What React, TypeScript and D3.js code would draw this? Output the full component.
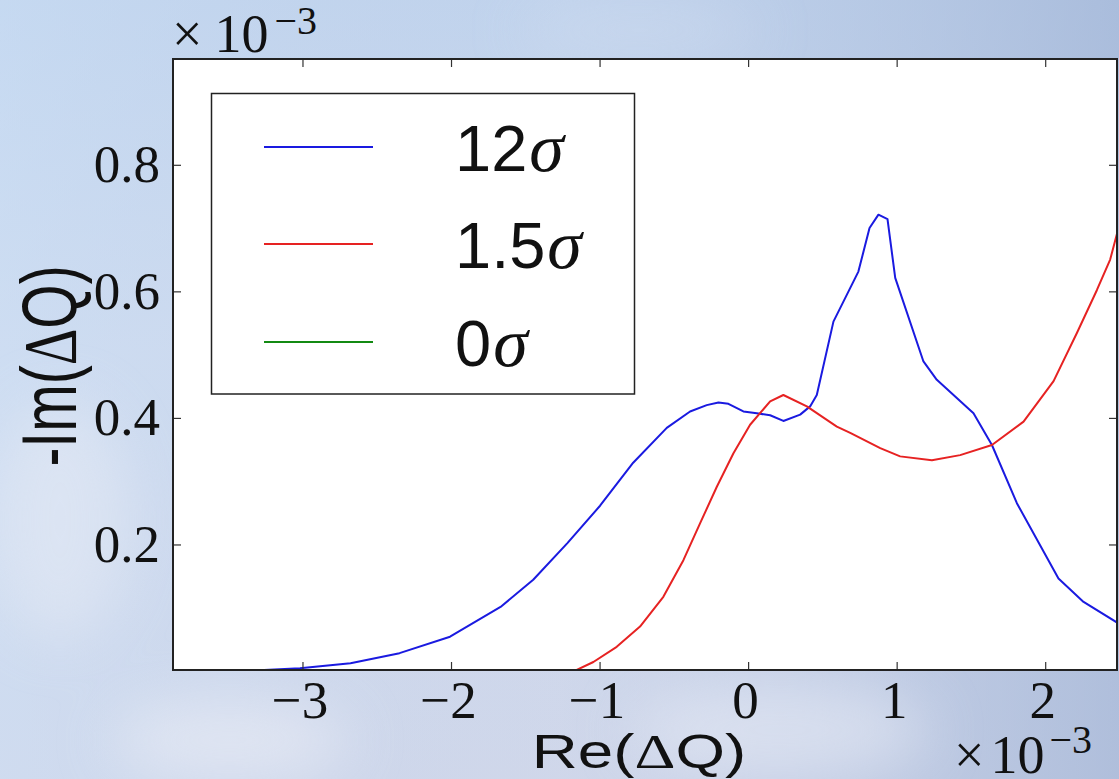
import React from 'react';
import * as d3 from 'd3';

const W = 1119;
const H = 779;

// Axis ticks (values are in units of 1e-3)
const X_TICKS = [-3, -2, -1, 0, 1, 2];
const Y_TICKS = [0.2, 0.4, 0.6, 0.8];
const X_DOMAIN = [-3.875, 2.48];
const Y_DOMAIN = [0.0024, 0.968];

// 12 sigma spread
const RE_12 = [-3.9, -3.4, -3.02, -2.68, -2.35, -2.01, -1.67, -1.45, -1.22, -1.0, -0.777, -0.551, -0.394, -0.282, -0.203, -0.136, -0.035, 0.055, 0.145, 0.234, 0.347, 0.414, 0.459, 0.571, 0.739, 0.814, 0.874, 0.935, 0.987, 1.177, 1.267, 1.514, 1.638, 1.806, 2.086, 2.255, 2.49];
const IM_12 = [0.0, 0.001, 0.005, 0.013, 0.029, 0.055, 0.102, 0.145, 0.203, 0.262, 0.33, 0.385, 0.411, 0.421, 0.425, 0.423, 0.411, 0.408, 0.405, 0.396, 0.406, 0.419, 0.437, 0.553, 0.632, 0.701, 0.722, 0.715, 0.622, 0.49, 0.461, 0.408, 0.358, 0.266, 0.147, 0.11, 0.076];

// 1.5 sigma spread
const RE_15 = [-3.9, -1.18, -1.045, -0.888, -0.731, -0.574, -0.439, -0.327, -0.214, -0.102, 0.01, 0.145, 0.234, 0.392, 0.594, 0.684, 0.886, 1.02, 1.234, 1.424, 1.638, 1.851, 2.053, 2.21, 2.345, 2.434, 2.49];
const IM_15 = [0.0, 0.0, 0.015, 0.039, 0.071, 0.118, 0.176, 0.234, 0.292, 0.345, 0.39, 0.427, 0.437, 0.419, 0.387, 0.377, 0.353, 0.34, 0.334, 0.342, 0.358, 0.395, 0.459, 0.535, 0.603, 0.651, 0.701];

// 0 sigma spread
const RE_0 = [-3.9, -2.0, 0.0, 2.0, 2.49];
const IM_0 = [0.0, 0.0, 0.0, 0.0, 0.0];

const SERIES_LABELS = ['12', '1.5', '0'];
const SERIES_COLORS = ['#1a1ae0', '#e62222', '#138a13'];

const SERIF = '"Liberation Serif", "DejaVu Serif", serif';
const SANS = '"Liberation Sans", Arial, sans-serif';

export default function App() {
  const x = d3.scaleLinear().domain(X_DOMAIN).range([173, 1117]);
  const y = d3.scaleLinear().domain(Y_DOMAIN).range([670, 59]);
  const [x0, x1] = x.range();
  const [y0, y1] = y.range();

  const line = d3
    .line<[number, number]>()
    .x((d) => x(d[0]))
    .y((d) => y(d[1]));

  const series = [
    { re: RE_12, im: IM_12 },
    { re: RE_15, im: IM_15 },
    { re: RE_0, im: IM_0 },
  ];

  const tickLen = 8;
  const legendY = [147, 244, 342];

  return (
    <svg
      width={W}
      height={H}
      style={{ position: 'absolute', left: 0, top: 0, display: 'block' }}
    >
      <defs>
        <linearGradient id="bgv" x1="0" y1="0" x2="0" y2="1">
          <stop offset="0" stopColor="#c3d6ef" />
          <stop offset="0.45" stopColor="#d3def1" />
          <stop offset="1" stopColor="#d6dbec" />
        </linearGradient>
        <linearGradient id="bgh" x1="0" y1="0" x2="1" y2="0">
          <stop offset="0" stopColor="#c8dcf3" stopOpacity="0.5" />
          <stop offset="0.5" stopColor="#b6c6e2" stopOpacity="0.2" />
          <stop offset="1" stopColor="#9fb2d4" stopOpacity="0.7" />
        </linearGradient>
        <filter id="soft" x="-50%" y="-50%" width="200%" height="200%">
          <feGaussianBlur stdDeviation="28" />
        </filter>
        <clipPath id="plotClip">
          <rect x={x0} y={y1} width={x1 - x0} height={y0 - y1} />
        </clipPath>
      </defs>

      {/* sky-like backdrop */}
      <rect x={0} y={0} width={W} height={H} fill="url(#bgv)" />
      <rect x={0} y={0} width={W} height={H} fill="url(#bgh)" />
      <g filter="url(#soft)" opacity={0.55}>
        <ellipse cx={230} cy={740} rx={120} ry={40} fill="#eef0f7" />
        <ellipse cx={780} cy={730} rx={150} ry={45} fill="#e8ecf6" />
        <ellipse cx={60} cy={520} rx={70} ry={120} fill="#e6ebf5" />
        <ellipse cx={640} cy={30} rx={120} ry={20} fill="#d2def0" />
      </g>

      {/* plot area */}
      <rect x={x0} y={y1} width={x1 - x0} height={y0 - y1} fill="#ffffff" />

      <g clipPath="url(#plotClip)">
        {series.map((s, i) => (
          <path
            key={i}
            d={line(s.re.map((r, k) => [r, s.im[k]]) as [number, number][]) || ''}
            fill="none"
            stroke={SERIES_COLORS[i]}
            strokeWidth={2}
            strokeLinejoin="round"
          />
        ))}
      </g>

      {/* ticks on all four sides, pointing inwards */}
      <g stroke="#333" strokeWidth={1.2}>
        {X_TICKS.map((t) => (
          <g key={'xt' + t}>
            <line x1={x(t)} x2={x(t)} y1={y0} y2={y0 - tickLen} />
            <line x1={x(t)} x2={x(t)} y1={y1} y2={y1 + tickLen} />
          </g>
        ))}
        {Y_TICKS.map((t) => (
          <g key={'yt' + t}>
            <line x1={x0} x2={x0 + tickLen} y1={y(t)} y2={y(t)} />
            <line x1={x1} x2={x1 - tickLen} y1={y(t)} y2={y(t)} />
          </g>
        ))}
      </g>

      {/* frame */}
      <rect
        x={x0}
        y={y1}
        width={x1 - x0}
        height={y0 - y1}
        fill="none"
        stroke="#222"
        strokeWidth={2}
      />

      {/* tick labels */}
      <g fontFamily={SERIF} fontSize={53} fill="#111">
        {X_TICKS.map((t) => (
          <text key={'xl' + t} x={x(t) - 3} y={718} textAnchor="middle">
            {t < 0 ? '\u2212' + Math.abs(t) : String(t)}
          </text>
        ))}
        {Y_TICKS.map((t) => (
          <text
            key={'yl' + t}
            x={160}
            y={y(t) + 17}
            textAnchor="end"
          >
            {t.toFixed(1)}
          </text>
        ))}
      </g>

      {/* offset multipliers */}
      <g fontFamily={SERIF} fill="#111">
        <text x={172} y={52} fontSize={54}>
          {'\u00d7'}
          <tspan dx={12}>10</tspan>
          <tspan fontSize={40} dx={6} dy={-18}>
            {'\u22123'}
          </tspan>
        </text>
        <text x={954} y={773} fontSize={54}>
          {'\u00d7'}
          <tspan dx={6}>10</tspan>
          <tspan fontSize={40} dx={5} dy={-20}>
            {'\u22123'}
          </tspan>
        </text>
      </g>

      {/* axis titles */}
      <text
        transform="translate(639,768) scale(1.3,1)"
        textAnchor="middle"
        fontFamily={SANS}
        fontSize={49}
        fill="#111"
      >
        {'Re('}
        <tspan fontFamily={SERIF}>{'\u0394'}</tspan>
        {'Q)'}
      </text>
      <text
        transform="translate(76,366) rotate(-90) scale(1,1.35)"
        textAnchor="middle"
        fontFamily={SANS}
        fontSize={57}
        fill="#111"
      >
        {'-Im('}
        <tspan fontFamily={SERIF}>{'\u0394'}</tspan>
        {'Q)'}
      </text>

      {/* legend */}
      <rect
        x={211.5}
        y={93.5}
        width={423}
        height={300.5}
        fill="#ffffff"
        stroke="#222"
        strokeWidth={1.5}
      />
      {SERIES_LABELS.map((lab, i) => (
        <g key={'lg' + i}>
          <line
            x1={264}
            x2={373}
            y1={legendY[i]}
            y2={legendY[i]}
            stroke={SERIES_COLORS[i]}
            strokeWidth={2}
          />
          <text x={455} y={legendY[i] + 23.5} fontFamily={SANS} fontSize={65} fill="#111">
            {lab}
            <tspan fontFamily={SERIF} fontStyle="italic" fontSize={70} dx={2}>
              {'\u03c3'}
            </tspan>
          </text>
        </g>
      ))}
    </svg>
  );
}
